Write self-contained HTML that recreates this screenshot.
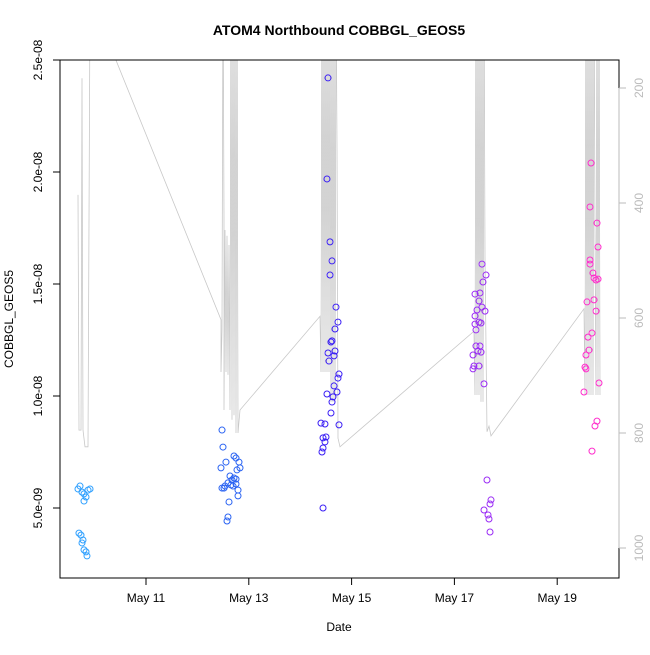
<!DOCTYPE html>
<html><head><meta charset="utf-8"><style>
body{margin:0;background:#fff}
svg text{font-family:"Liberation Sans",sans-serif}
</style></head><body>
<svg id="c" width="650" height="650" xmlns="http://www.w3.org/2000/svg">
<defs><clipPath id="clip"><rect x="60" y="60" width="559" height="518"/></clipPath></defs>
<text x="339" y="35" text-anchor="middle" font-size="14" font-weight="bold">ATOM4 Northbound COBBGL_GEOS5</text>
<text x="339" y="631" text-anchor="middle" font-size="12">Date</text>
<text transform="translate(13,319) rotate(-90)" text-anchor="middle" font-size="12">COBBGL_GEOS5</text>
<g id="line" clip-path="url(#clip)"></g>
<g id="pts"></g>
<rect x="60" y="60" width="559" height="518" fill="none" stroke="#000"/>
<g id="axes"></g>
</svg>
<script>
const xTicks=[11,13,15,17,19];
const xTickLabels=["May 11","May 13","May 15","May 17","May 19"];
const yTicks=[5,10,15,20,25];
const yTickLabels=["5.0e-09","1.0e-08","1.5e-08","2.0e-08","2.5e-08"];
const rTicks=[200,400,600,800,1000];
const ptDates=[9.716,9.677,9.755,9.794,9.872,9.911,9.833,9.794,9.696,9.735,9.774,9.755,9.794,9.833,9.852,
12.479,12.498,12.459,12.556,12.751,12.809,12.712,12.634,12.673,12.595,12.537,12.479,12.751,12.693,12.790,12.790,12.615,12.595,12.576,12.829,12.770,12.518,12.654,12.712,12.751,
14.541,14.521,14.580,14.619,14.580,14.696,14.735,14.677,14.599,14.619,14.677,14.541,14.658,14.560,14.755,14.735,14.658,14.716,14.521,14.638,14.619,14.599,14.405,14.482,14.755,14.444,14.502,14.482,14.444,14.424,14.444,
17.537,17.615,17.556,17.401,17.498,17.479,17.537,17.595,17.440,17.401,17.401,17.479,17.518,17.420,17.420,17.498,17.459,17.518,17.362,17.381,17.479,17.362,17.576,17.634,17.712,17.693,17.576,17.654,17.673,17.693,
19.658,19.638,19.774,19.794,19.638,19.638,19.696,19.716,19.755,19.794,19.580,19.716,19.755,19.677,19.599,19.619,19.560,19.541,19.560,19.813,19.521,19.774,19.735,19.677];
const ptValues=[5.98,5.85,5.71,5.63,5.80,5.85,5.49,5.31,3.88,3.79,3.57,3.44,3.13,3.04,2.86,
8.48,7.72,6.79,7.05,7.23,7.05,7.32,6.43,6.25,6.12,5.98,5.89,6.07,5.98,5.80,5.54,5.27,4.60,4.42,6.79,6.70,5.89,6.03,6.34,6.29,
24.20,19.69,16.88,16.03,15.40,13.97,13.30,12.99,12.41,12.46,12.01,11.92,11.79,11.56,10.98,10.80,10.45,10.18,10.09,9.96,9.73,9.24,8.79,8.75,8.71,8.13,8.17,7.95,7.68,7.50,5.00,
15.89,15.40,15.09,14.55,14.60,14.24,13.97,13.79,13.84,13.57,13.21,13.30,13.26,12.95,12.23,12.23,12.01,11.96,11.83,11.34,11.34,11.21,10.54,6.25,5.36,5.18,4.91,4.69,4.51,3.93,
20.40,18.44,17.72,16.65,16.07,15.89,15.49,15.27,15.18,15.22,14.20,14.29,13.79,12.81,12.63,12.05,11.83,11.29,11.21,10.58,10.18,8.88,8.66,7.54];
const lineDates=[9.677,9.696,9.735,9.755,9.774,9.813,9.872,9.911,
12.459,12.459,12.479,12.498,12.518,12.518,12.537,12.556,12.576,12.595,12.615,12.634,12.654,12.673,12.693,12.712,12.732,12.751,12.770,12.790,12.829,
14.385,14.405,14.424,14.444,14.463,14.482,14.502,14.521,14.541,14.560,14.580,14.599,14.619,14.638,14.658,14.677,14.696,14.716,14.735,14.774,
17.381,17.401,17.420,17.440,17.459,17.479,17.498,17.518,17.537,17.556,17.576,17.595,17.634,17.673,17.712,
19.521,19.541,19.560,19.580,19.599,19.619,19.638,19.658,19.677,19.696,19.716,19.735,19.755,19.774,19.794,19.813,19.833];
const linePressure=[386,795,795,183,795,824,824,40,
603,694,621,0,426,760,447,694,457,699,473,760,0,777,0,769,0,800,0,800,760,
597,694,0,694,0,694,0,694,0,694,0,746,0,746,0,746,0,306,809,824,
623,734,0,734,0,734,0,746,0,746,0,497,798,788,805,
584,734,0,734,0,734,0,734,0,734,0,450,734,0,734,0,734];

const X=d=>146+(d-11)*51.4;
const Y=v=>508-(v-5)*22.4;
const P=p=>88+(p-200)*0.575;
const NS="http://www.w3.org/2000/svg";
function mk(t,a){const e=document.createElementNS(NS,t);for(const k in a)e.setAttribute(k,a[k]);return e;}
const lg=document.getElementById('line');
let d="";lineDates.forEach((t,i)=>{d+=(i?"L":"M")+X(t).toFixed(1)+","+P(linePressure[i]).toFixed(1);});
const pl=mk('path',{d:d,fill:'none',stroke:'#c8c8c8','stroke-width':0.8});


lg.appendChild(pl);
function col(t){if(t<11)return'#2fa0ff';if(t<13.5)return'#2a63f2';if(t<16)return'#3a1ef5';if(t<18.5)return'#9a2cf5';return'#ff2ccc';}
const pg=document.getElementById('pts');
ptDates.forEach((t,i)=>{const c=mk('circle',{cx:X(t),cy:Y(ptValues[i]),r:3,fill:'none',stroke:col(t),'stroke-width':1});


pg.appendChild(c);});
const ax=document.getElementById('axes');
ax.appendChild(mk('line',{x1:X(xTicks[0]),x2:X(xTicks[xTicks.length-1]),y1:578,y2:578,stroke:'#000'}));
xTicks.forEach((t,i)=>{ax.appendChild(mk('line',{x1:X(t),x2:X(t),y1:578,y2:585,stroke:'#000'}));
const tx=mk('text',{x:X(t),y:602,'text-anchor':'middle','font-size':12});tx.textContent=xTickLabels[i];


ax.appendChild(tx);});
yTicks.forEach((v,i)=>{ax.appendChild(mk('line',{x1:53,x2:60,y1:Y(v),y2:Y(v),stroke:'#000'}));
const tx=mk('text',{transform:`translate(42,${Y(v)}) rotate(-90)`,'text-anchor':'middle','font-size':12});tx.textContent=yTickLabels[i];


ax.appendChild(tx);});
ax.appendChild(mk('line',{x1:619,x2:619,y1:P(rTicks[0]),y2:P(rTicks[rTicks.length-1]),stroke:'#bbb'}));
rTicks.forEach(p=>{ax.appendChild(mk('line',{x1:619,x2:626,y1:P(p),y2:P(p),stroke:'#bbb'}));
const tx=mk('text',{transform:`translate(643,${P(p)}) rotate(-90)`,'text-anchor':'middle','font-size':12,fill:'#bbb'});tx.textContent=p;


ax.appendChild(tx);});
</script>
</body></html>
